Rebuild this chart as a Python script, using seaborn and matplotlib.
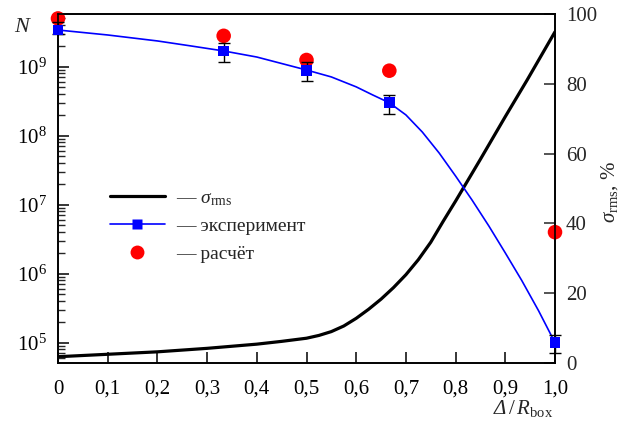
import numpy as np
import pandas as pd
import matplotlib
matplotlib.use("Agg")
import matplotlib.pyplot as plt
import seaborn as sns
from matplotlib.lines import Line2D
from matplotlib.ticker import FixedLocator, LogLocator, NullFormatter

# --- данные ---
# эксперимент (синие квадраты) и ошибки
exp_x = [0.0, 1/3, 0.5, 2/3, 1.0]
exp_N = [3.4e9, 1.69e9, 8.9e8, 3.0e8, 1.0e5]
exp_lo = [3.0e9, 1.17e9, 6.3e8, 2.05e8, 7.1e4]
exp_hi = [4.5e9, 2.2e9, 1.18e9, 3.9e8, 1.3e5]

# синяя гладкая кривая через точки
curve_x = [0.0, 0.1, 0.2, 0.267, 1/3, 0.4, 0.5, 0.55, 0.6, 0.633, 2/3, 0.7, 0.733,
           0.767, 0.8, 0.833, 0.867, 0.9, 0.933, 0.967, 1.0]
curve_N = [3.4e9, 2.88e9, 2.36e9, 2.0e9, 1.69e9, 1.38e9, 8.95e8, 7.1e8, 5.1e8, 3.9e8,
           3.0e8, 2.0e8, 1.13e8, 5.6e7, 2.6e7, 1.17e7, 4.9e6, 2.0e6, 8.0e5, 2.9e5, 1.0e5]

# расчёт (красные круги)
calc_x = [0.0, 1/3, 0.5, 2/3, 1.0]
calc_N = [5.0e9, 2.8e9, 1.25e9, 8.75e8, 4.0e6]

# sigma_rms, % (правая ось)
sig_x = [0.0, 0.1, 0.2, 0.3, 0.4, 0.45, 0.5, 0.525, 0.55, 0.575, 0.6, 0.625, 0.65,
         0.675, 0.7, 0.725, 0.75, 0.775, 0.8, 0.85, 0.9, 0.944, 1.0]
sig_v = [1.8, 2.5, 3.2, 4.2, 5.4, 6.2, 7.1, 7.9, 9.0, 10.6, 12.8, 15.4, 18.3,
         21.6, 25.3, 29.6, 34.6, 40.6, 46.4, 58.4, 70.6, 81.1, 94.9]

x_ticks = [0, 0.1, 0.2, 0.3, 0.4, 0.5, 0.6, 0.7, 0.8, 0.9, 1.0]
x_labels = ["0", "0,1", "0,2", "0,3", "0,4", "0,5", "0,6", "0,7", "0,8", "0,9", "1,0"]
r_ticks = [0, 20, 40, 60, 80, 100]

sns.set_style("ticks")
plt.rcParams["font.family"] = ["Liberation Serif", "DejaVu Serif"]
plt.rcParams["mathtext.fontset"] = "custom"
plt.rcParams["mathtext.rm"] = "Liberation Serif"
plt.rcParams["mathtext.it"] = "Liberation Serif:italic"
plt.rcParams["mathtext.default"] = "regular"
plt.rcParams["font.size"] = 14

fig = plt.figure(figsize=(6.35, 4.3), dpi=100)
ax = fig.add_axes([58/635, 1 - 363/430, 497/635, 349/430])
ax2 = ax.twinx()

# правая ось: sigma_rms
sig_df = pd.DataFrame({"x": sig_x, "s": sig_v})
sns.lineplot(data=sig_df, x="x", y="s", ax=ax2, color="black", lw=2.3,
             estimator=None, sort=False)

# левая ось: N
curve_df = pd.DataFrame({"x": curve_x, "N": curve_N})
sns.lineplot(data=curve_df, x="x", y="N", ax=ax, color="#0000ff", lw=1.2,
             estimator=None, sort=False)
ax.errorbar(exp_x, exp_N,
            yerr=[np.array(exp_N) - np.array(exp_lo), np.array(exp_hi) - np.array(exp_N)],
            fmt="none", ecolor="black", elinewidth=1.0, capsize=4, capthick=1.0,
            clip_on=False, zorder=3)
exp_df = pd.DataFrame({"x": exp_x, "N": exp_N})
sns.scatterplot(data=exp_df, x="x", y="N", ax=ax, marker="s", s=60, color="#0000ff",
                edgecolor="none", clip_on=False, zorder=4)
calc_df = pd.DataFrame({"x": calc_x, "N": calc_N})
sns.scatterplot(data=calc_df, x="x", y="N", ax=ax, marker="o", s=110, color="#ff0000",
                edgecolor="none", clip_on=False, zorder=2)

ax.set_zorder(ax2.get_zorder() + 1)
ax.patch.set_visible(False)

ax.set_yscale("log")
ax.set_xlim(0, 1.0)
ax.set_ylim(5.08e4, 5.8e9)
ax2.set_ylim(0, 100)

ax.set_xticks(x_ticks)
ax.set_xticklabels(x_labels)
ax.yaxis.set_major_locator(FixedLocator([1e5, 1e6, 1e7, 1e8, 1e9]))
ax.yaxis.set_minor_locator(LogLocator(base=10, subs=np.arange(2, 10)))
ax.yaxis.set_minor_formatter(NullFormatter())
ax2.set_yticks(r_ticks)

ax.tick_params(axis="both", which="major", direction="in", length=8, width=1.1,
               labelsize=15, top=False, right=False, pad=8, colors="black")
ax.tick_params(axis="y", which="minor", direction="in", length=5, width=1.0, right=False)
ax.tick_params(axis="x", pad=12)
ax2.tick_params(axis="y", which="major", direction="in", length=8, width=1.1,
                labelsize=15, pad=8)
for a in (ax, ax2):
    for sp in a.spines.values():
        sp.set_linewidth(1.2)
        sp.set_color("black")
    a.set_xlabel("")
    a.set_ylabel("")

# легенда
handles = [
    Line2D([], [], color="black", lw=2.3),
    Line2D([], [], color="#0000ff", lw=1.2, marker="s", markersize=7, markeredgecolor="none"),
    Line2D([], [], color="none", marker="o", markersize=10, markerfacecolor="#ff0000",
           markeredgecolor="none"),
]
labels = ["— $\\mathit{\\sigma}_{\\mathrm{rms}}$", "— эксперимент", "— расчёт"]
ax.legend(handles, labels, loc="upper left", bbox_to_anchor=(0.105, 0.497),
          frameon=False, fontsize=14, handlelength=2.8, handletextpad=0.6,
          labelspacing=0.5, borderpad=0, borderaxespad=0)

fig.text(22/635, 1 - 27/430, "N", fontsize=16, style="italic", ha="center", va="center")
fig.text(610/635, 1 - 192/430, "$\\mathit{\\sigma}_{\\mathrm{rms}}$, %", fontsize=15,
         rotation=90, ha="center", va="center")
# подпись оси x: курсивная Δ, затем /R_box
t_delta = fig.text(494/635, 1 - 414/430, "Δ", fontsize=15, style="italic",
                   ha="left", va="baseline")
fig.canvas.draw()
ax.annotate("$\\,/\\,\\mathit{R}_{\\mathrm{box}}$", xy=(1, 0), xycoords=t_delta,
            fontsize=15, ha="left", va="bottom", annotation_clip=False)

fig.savefig("out.png", dpi=100, facecolor="white")
